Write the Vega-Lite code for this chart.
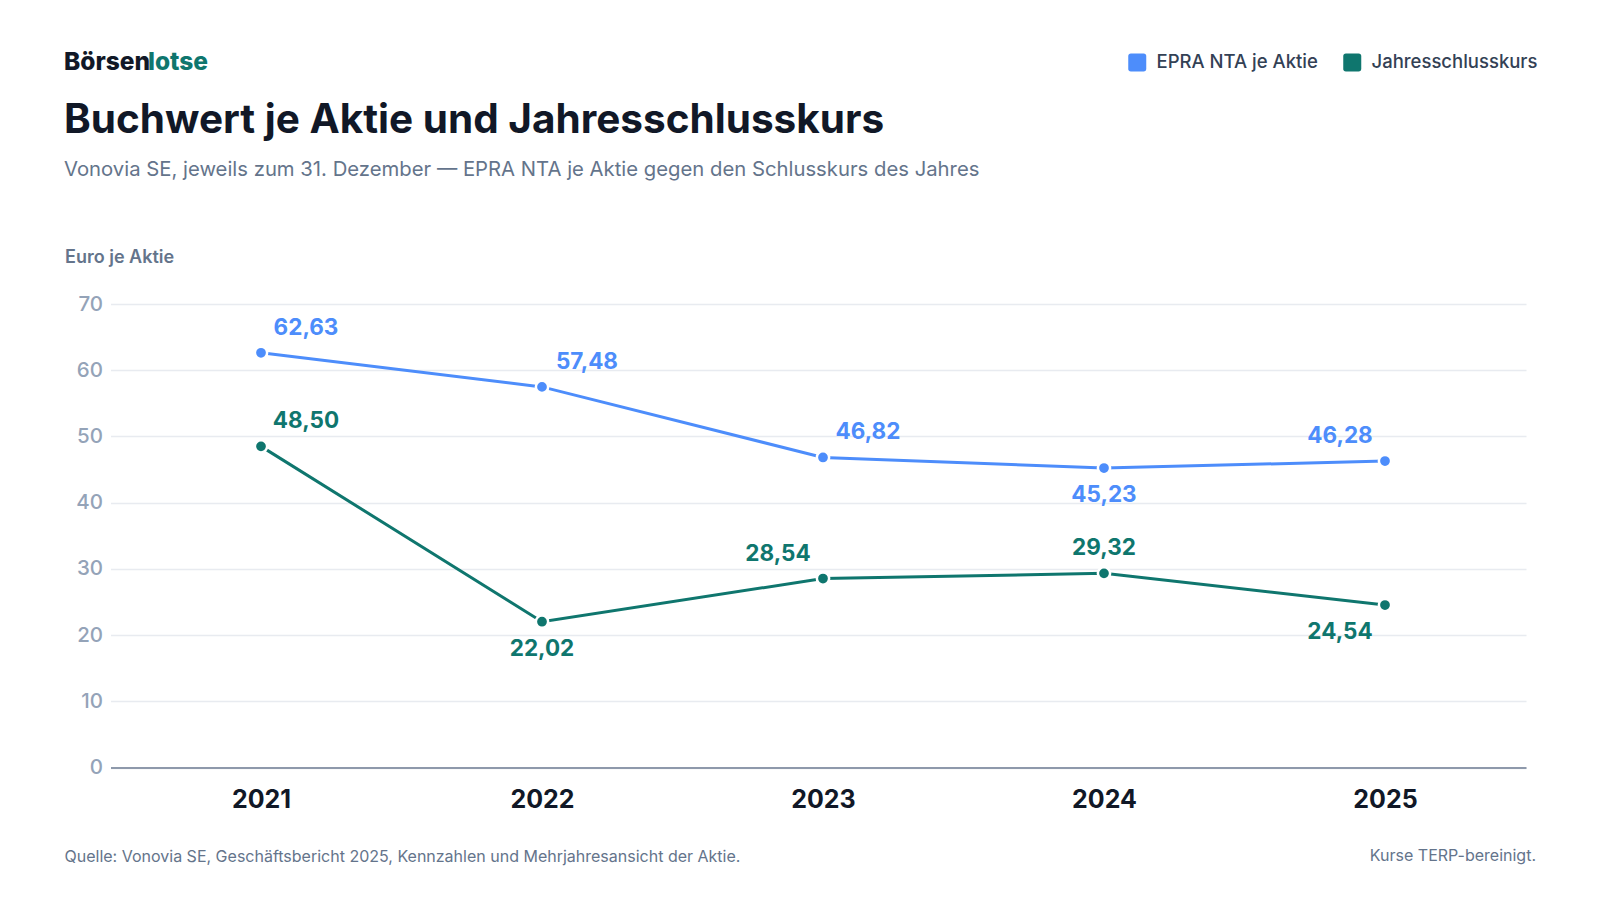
{
  "$schema": "https://vega.github.io/schema/vega-lite/v6.json",
  "width": 1415.5,
  "height": 463.5,
  "autosize": {"type": "none"},
  "padding": {"left": 110.5, "top": 304, "right": 74, "bottom": 132.5},
  "background": "white",
  "config": {
    "font": "Inter",
    "locale": {"number": {"decimal": ",", "thousands": ".", "grouping": [3], "currency": ["", " €"]}},
    "view": {"stroke": null}
  },
  "title": {
    "text": "Buchwert je Aktie und Jahresschlusskurs",
    "subtitle": "Vonovia SE, jeweils zum 31. Dezember — EPRA NTA je Aktie gegen den Schlusskurs des Jahres",
    "anchor": "start",
    "frame": "group",
    "dx": -46.5,
    "dy": 134,
    "fontSize": 40.5,
    "fontWeight": 700,
    "color": "#111827",
    "subtitleFontSize": 20.3,
    "subtitleColor": "#64748B",
    "subtitleFontWeight": 400,
    "subtitlePadding": 18
  },
  "datasets": {
    "main": [
      {"year": 2021, "series": "EPRA NTA je Aktie", "value": 62.63},
      {"year": 2022, "series": "EPRA NTA je Aktie", "value": 57.48},
      {"year": 2023, "series": "EPRA NTA je Aktie", "value": 46.82},
      {"year": 2024, "series": "EPRA NTA je Aktie", "value": 45.23},
      {"year": 2025, "series": "EPRA NTA je Aktie", "value": 46.28},
      {"year": 2021, "series": "Jahresschlusskurs", "value": 48.50},
      {"year": 2022, "series": "Jahresschlusskurs", "value": 22.02},
      {"year": 2023, "series": "Jahresschlusskurs", "value": 28.54},
      {"year": 2024, "series": "Jahresschlusskurs", "value": 29.32},
      {"year": 2025, "series": "Jahresschlusskurs", "value": 24.54}
    ],
    "brand1": [{"t": "Börsen"}],
    "brand2": [{"t": "lotse"}],
    "note": [{"t": "Kurse TERP-bereinigt."}]
  },
  "encoding": {
    "x": {
      "field": "year",
      "type": "quantitative",
      "scale": {"domain": [2020.4644, 2025.5018], "nice": false, "zero": false},
      "axis": {
        "values": [2021, 2022, 2023, 2024, 2025],
        "format": "d",
        "grid": false,
        "ticks": false,
        "domainColor": "#8E99AB",
        "domainWidth": 2,
        "labelFontSize": 25,
        "labelFontWeight": 700,
        "labelColor": "#111827",
        "labelPadding": 20,
        "title": "Quelle: Vonovia SE, Geschäftsbericht 2025, Kennzahlen und Mehrjahresansicht der Aktie.",
        "titleAnchor": "start",
        "titleAlign": "left",
        "titleBaseline": "middle",
        "titleX": -46.5,
        "titleY": 88.5,
        "titleFontSize": 16,
        "titleFontWeight": 400,
        "titleColor": "#64748B"
      }
    },
    "y": {
      "field": "value",
      "type": "quantitative",
      "scale": {"domain": [0, 70], "nice": false},
      "axis": {
        "values": [0, 10, 20, 30, 40, 50, 60, 70],
        "format": "d",
        "grid": true,
        "gridColor": "#E8EBF0",
        "gridWidth": 1.5,
        "domain": false,
        "ticks": false,
        "labelFontSize": 20.5,
        "labelFontWeight": 500,
        "labelColor": "#94A3B8",
        "labelPadding": 8,
        "title": "Euro je Aktie",
        "titleAngle": 0,
        "titleAlign": "left",
        "titleAnchor": "start",
        "titleBaseline": "middle",
        "titleX": -46,
        "titleY": -47,
        "titleFontSize": 18,
        "titleFontWeight": 600,
        "titleColor": "#64748B"
      }
    },
    "color": {
      "field": "series",
      "type": "nominal",
      "scale": {"domain": ["EPRA NTA je Aktie", "Jahresschlusskurs"], "range": ["#4D8DFB", "#0F766E"]},
      "legend": {
        "orient": "none",
        "legendX": 1017.5,
        "legendY": -251,
        "direction": "horizontal",
        "title": null,
        "padding": 0,
        "symbolType": "M-0.7,-1H0.7Q1,-1 1,-0.7V0.7Q1,1 0.7,1H-0.7Q-1,1 -1,0.7V-0.7Q-1,-1 -0.7,-1Z",
        "symbolSize": 324,
        "symbolStrokeWidth": 0,
        "symbolOpacity": 1,
        "labelFontSize": 18.5,
        "labelFontWeight": 500,
        "labelColor": "#334155",
        "labelOffset": 10,
        "labelLimit": 400,
        "columnPadding": 25
      }
    }
  },
  "layer": [
    {"data": {"name": "main"}, "mark": {"type": "line", "strokeWidth": 3}},
    {"data": {"name": "main"}, "mark": {"type": "circle", "size": 150, "opacity": 1, "stroke": "white", "strokeWidth": 2.5}},
    {
      "data": {"name": "main"},
      "transform": [{"filter": "(datum.year == 2021) || (datum.series == 'EPRA NTA je Aktie' && (datum.year == 2022 || datum.year == 2023))"}],
      "mark": {"type": "text", "fontSize": 22.5, "fontWeight": 700, "align": "center", "baseline": "middle", "dx": 45, "dy": -25},
      "encoding": {"text": {"field": "value", "type": "quantitative", "format": ".2f"}}
    },
    {
      "data": {"name": "main"},
      "transform": [{"filter": "(datum.series == 'Jahresschlusskurs' && datum.year == 2022) || (datum.series == 'EPRA NTA je Aktie' && datum.year == 2024)"}],
      "mark": {"type": "text", "fontSize": 22.5, "fontWeight": 700, "align": "center", "baseline": "middle", "dx": 0, "dy": 27},
      "encoding": {"text": {"field": "value", "type": "quantitative", "format": ".2f"}}
    },
    {
      "data": {"name": "main"},
      "transform": [{"filter": "(datum.series == 'Jahresschlusskurs' && datum.year == 2023) || (datum.series == 'EPRA NTA je Aktie' && datum.year == 2025)"}],
      "mark": {"type": "text", "fontSize": 22.5, "fontWeight": 700, "align": "center", "baseline": "middle", "dx": -45, "dy": -25},
      "encoding": {"text": {"field": "value", "type": "quantitative", "format": ".2f"}}
    },
    {
      "data": {"name": "main"},
      "transform": [{"filter": "datum.series == 'Jahresschlusskurs' && datum.year == 2024"}],
      "mark": {"type": "text", "fontSize": 22.5, "fontWeight": 700, "align": "center", "baseline": "middle", "dx": 0, "dy": -25},
      "encoding": {"text": {"field": "value", "type": "quantitative", "format": ".2f"}}
    },
    {
      "data": {"name": "main"},
      "transform": [{"filter": "datum.series == 'Jahresschlusskurs' && datum.year == 2025"}],
      "mark": {"type": "text", "fontSize": 22.5, "fontWeight": 700, "align": "center", "baseline": "middle", "dx": -45, "dy": 27},
      "encoding": {"text": {"field": "value", "type": "quantitative", "format": ".2f"}}
    },
    {
      "data": {"name": "brand1"},
      "mark": {"type": "text", "fontSize": 24.5, "fontWeight": 800, "align": "left", "baseline": "middle", "color": "#111827"},
      "encoding": {"x": {"value": -46.5}, "y": {"value": -241}, "text": {"field": "t"}, "color": null}
    },
    {
      "data": {"name": "brand2"},
      "mark": {"type": "text", "fontSize": 24.5, "fontWeight": 800, "align": "left", "baseline": "middle", "color": "#0F766E"},
      "encoding": {"x": {"value": 37.5}, "y": {"value": -241}, "text": {"field": "t"}, "color": null}
    },
    {
      "data": {"name": "note"},
      "mark": {"type": "text", "fontSize": 16, "fontWeight": 400, "align": "right", "baseline": "middle", "color": "#64748B"},
      "encoding": {"x": {"value": 1425.5}, "y": {"value": 552}, "text": {"field": "t"}, "color": null}
    }
  ]
}
